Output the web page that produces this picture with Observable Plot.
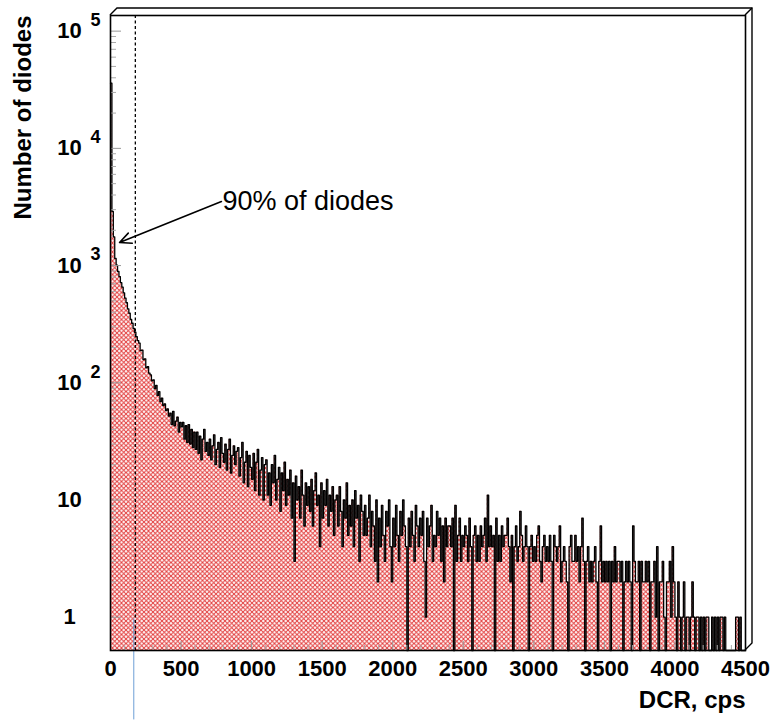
<!DOCTYPE html>
<html>
<head>
<meta charset="utf-8">
<script src="https://cdn.jsdelivr.net/npm/d3@7"></script>
<script src="https://cdn.jsdelivr.net/npm/@observablehq/plot@0.6"></script>
<style>
  body { margin: 0; background: #fff; }
  #chart svg { display: block; }
</style>
</head>
<body>
<div id="chart"></div>
<script>
// Dark count rate histogram: number of diodes per 10 cps bin, 0–4500 cps
const binWidth = 10;
const counts = [
  36000, 2900, 1760, 1150, 1010, 890, 805, 715, 655, 585,
  528, 482, 428, 392, 348, 322, 291, 270, 247, 229,
  218, 188, 190, 158, 160, 134, 137, 121, 117, 104,
  106, 89, 95, 78, 84, 69, 74, 64, 66, 58,
  60, 52, 55, 44, 57, 43, 47, 51, 38, 46,
  42, 46, 33, 43, 31, 44, 30, 40, 28, 38,
  27, 38, 25, 35, 22, 33, 40, 26, 31, 24,
  33, 22, 29, 36, 20, 27, 31, 19, 34, 25,
  21, 30, 18, 27, 33, 17, 24, 29, 20, 26,
  28, 16, 23, 31, 14, 21, 26, 13, 24, 19,
  15, 25, 12, 21, 27, 11, 18, 23, 10, 20,
  22, 11, 17, 9, 20, 14, 24, 10, 15, 19,
  8, 17, 12, 21, 9, 15, 11, 18, 7, 14,
  3, 16, 10, 13, 7, 18, 11, 6, 14, 9,
  13, 8, 15, 6, 12, 17, 9, 11, 4, 14,
  7, 12, 9, 15, 6, 11, 8, 13, 5, 10,
  11, 6, 13, 8, 4, 10, 7, 14, 5, 9,
  6, 10, 4, 12, 7, 9, 3, 11, 8, 5,
  9, 5, 7, 11, 4, 8, 6, 3, 10, 2,
  7, 4, 9, 5, 3, 8, 6, 10, 4, 2,
  7, 4, 9, 5, 3, 8, 5, 10, 6, 4,
  0, 7, 4, 8, 5, 3, 9, 6, 4, 7,
  5, 8, 3, 1, 7, 4, 6, 9, 3, 5,
  4, 8, 5, 7, 3, 6, 2, 7, 4, 6,
  6, 4, 7, 0, 9, 3, 5, 7, 3, 5,
  4, 6, 5, 3, 7, 4, 0, 5, 6, 3,
  5, 3, 6, 4, 5, 7, 3, 11, 4, 6,
  4, 5, 0, 7, 3, 5, 3, 6, 4, 5,
  5, 7, 4, 2, 5, 0, 4, 6, 3, 4,
  8, 5, 3, 4, 6, 4, 0, 4, 5, 3,
  4, 3, 5, 6, 3, 2, 4, 5, 3, 4,
  3, 5, 3, 0, 5, 4, 3, 4, 6, 2,
  3, 4, 3, 2, 0, 4, 5, 3, 3, 5,
  3, 4, 2, 4, 7, 3, 0, 3, 4, 2,
  3, 2, 3, 4, 2, 0, 3, 6, 2, 3,
  2, 3, 2, 3, 0, 3, 2, 4, 2, 3,
  3, 2, 3, 0, 2, 3, 2, 3, 2, 0,
  6, 3, 2, 2, 3, 0, 3, 2, 2, 3,
  2, 3, 0, 2, 2, 3, 1, 4, 0, 2,
  2, 3, 1, 0, 2, 2, 3, 1, 4, 2,
  1, 0, 2, 1, 0, 1, 2, 0, 1, 1,
  0, 1, 2, 1, 0, 1, 1, 0, 1, 0,
  1, 0, 1, 1, 0, 0, 1, 0, 1, 0,
  1, 0, 1, 1, 0, 1, 0, 0, 0, 0,
  0, 0, 0, 1, 1, 0, 1, 0, 0, 0
];

// Axis ranges and ticks
const xDomain = [0, 4500];
const yDomain = [0.52, 1.36e5];
const xTickValues = [0, 500, 1000, 1500, 2000, 2500, 3000, 3500, 4000, 4500];
const yTickValues = [1, 10, 100, 1000, 10000, 100000];
const yTickBase = ["1", "10", "10", "10", "10", "10"];
const yTickExp = ["", "", "2", "3", "4", "5"];

// 90% of diodes lie below this rate
const cutDCR = 176;
const markerDCR = 165;
const markerSpan = [0.133, 0.97];
const note = {text: "90% of diodes", x1: 786, y1: 3520, x2: 64, y2: 1574};

const font = "'Liberation Sans', Arial, Helvetica, sans-serif";
const yMin = yDomain[0];

const bins = counts.map((n, i) => ({x: i * binWidth, n}));
bins.push({x: counts.length * binWidth, n: counts[counts.length - 1]});
const shown = d => Math.max(d.n, yMin);

const yMinor = [];
for (let e = 0; e < 5; ++e) for (let k = 2; k <= 9; ++k) yMinor.push(k * 10 ** e);
const xMinor = d3.range(0, 4501, 100).filter(v => v % 500 !== 0);

const yTicks = yTickValues.map((v, i) => ({v, base: yTickBase[i], exp: yTickExp[i]}));

const hatchDefs = () => {
  const defs = document.createElementNS("http://www.w3.org/2000/svg", "defs");
  defs.innerHTML = `<pattern id="xhatch" patternUnits="userSpaceOnUse" width="4.5" height="4.5">
      <rect width="4.5" height="4.5" fill="#fff"/>
      <path d="M-1,-1L5.5,5.5M5.5,-1L-1,5.5" stroke="#e23838" stroke-width="0.95" fill="none"/>
    </pattern>`;
  return defs;
};

const chart = Plot.plot({
  width: 774,
  height: 720,
  marginLeft: 110,
  marginRight: 29,
  marginTop: 15,
  marginBottom: 70,
  style: {fontFamily: font, background: "#fff", color: "#000", overflow: "visible"},
  x: {domain: xDomain, label: null},
  y: {type: "log", domain: yDomain, label: null},
  marks: [
    hatchDefs,
    Plot.areaY(bins, {x: "x", y1: yMin, y2: shown, curve: "step-after", fill: "url(#xhatch)"}),
    Plot.line(bins, {x: "x", y: shown, curve: "step-after", stroke: "#000", strokeWidth: 1.3}),
    Plot.ruleX([cutDCR], {stroke: "#000", strokeWidth: 1.3, strokeDasharray: "3,2.5"}),
    Plot.ruleX([markerDCR], {y1: markerSpan[0], y2: markerSpan[1], stroke: "#6d9fd6", strokeWidth: 1}),
    // inward ticks
    Plot.axisY(yTickValues, {tickSize: -11, tickFormat: () => "", stroke: "#999", label: null}),
    Plot.axisY(yMinor, {tickSize: -6, tickFormat: () => "", stroke: "#aaa", label: null}),
    Plot.axisX(xTickValues, {tickSize: -9, tickFormat: () => "", stroke: "#999", label: null}),
    Plot.axisX(xMinor, {tickSize: -5, tickFormat: () => "", stroke: "#aaa", label: null}),
    // tick labels
    Plot.axisX(xTickValues, {tickSize: 0, tickPadding: 10, tickFormat: d => String(d), fontSize: 22, fontWeight: "bold", label: null}),
    Plot.text(yTicks, {y: "v", text: "base", frameAnchor: "left", dx: -41, textAnchor: "middle", fontSize: 22, fontWeight: "bold"}),
    Plot.text(yTicks, {y: "v", text: "exp", frameAnchor: "left", dx: -20, dy: -11, textAnchor: "start", fontSize: 18, fontWeight: "bold"}),
    Plot.frame({stroke: "#000", strokeWidth: 1.6}),
    // annotation
    Plot.arrow([note], {x1: "x1", y1: "y1", x2: "x2", y2: "y2", bend: 0, headLength: 12, headAngle: 50, stroke: "#000", strokeWidth: 1.6}),
    Plot.text([note], {x: "x1", y: "y1", text: "text", textAnchor: "start", dx: 1, fontSize: 27}),
    // axis titles
    Plot.text(["Number of diodes"], {text: d => d, frameAnchor: "top-left", dx: -97, rotate: -90, textAnchor: "end", fontSize: 24, fontWeight: "bold"}),
    Plot.text(["DCR, cps"], {text: d => d, frameAnchor: "bottom-right", dy: 57, textAnchor: "end", fontSize: 24, fontWeight: "bold"})
  ]
});

// Bevelled outer edge of the frame (top and right), placed with the plot's scales
const sx = chart.scale("x"), sy = chart.scale("y");
const L = sx.apply(xDomain[0]), R = sx.apply(xDomain[1]);
const T = sy.apply(yDomain[1]), B = sy.apply(yDomain[0]);
const off = 7;
const bevel = d3.select(chart).append("g").attr("stroke", "#000").attr("stroke-width", 1.4).attr("fill", "none");
bevel.append("path").attr("d", `M${L},${T}L${L + off},${T - off}L${R + off},${T - off}L${R + off},${B - off}L${R},${B}`);
bevel.append("path").attr("d", `M${R},${T}L${R + off},${T - off}`);

document.getElementById("chart").appendChild(chart);
</script>
</body>
</html>
